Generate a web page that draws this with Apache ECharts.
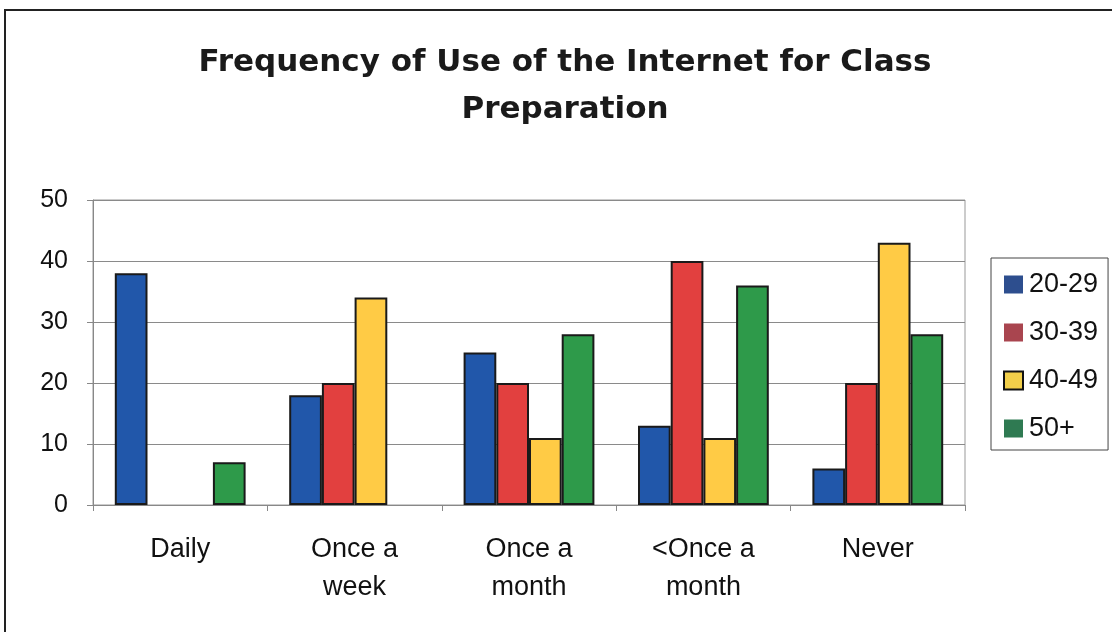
<!DOCTYPE html>
<html>
<head>
<meta charset="utf-8">
<script src="https://cdn.jsdelivr.net/npm/echarts@6/dist/echarts.min.js"></script>
<style>
html,body{margin:0;padding:0;background:#fff;}
#chart{width:1112px;height:632px;}
</style>
</head>
<body>
<div id="chart"></div>
<script>
const categories = ['Daily', 'Once a\nweek', 'Once a\nmonth', '<Once a\nmonth', 'Never'];
const seriesNames = ['20-29', '30-39', '40-49', '50+'];
const s2029 = [38, 18, 25, 13, 6];
const s3039 = [0, 20, 20, 40, 20];
const s4049 = [0, 34, 11, 11, 43];
const s50p = [7, 0, 28, 36, 28];
const yTicks = [0, 10, 20, 30, 40, 50];

const barColors = ['#2157AA', '#E2403F', '#FFCB45', '#2E9A4A'];
const legendColors = ['#2D4E8E', '#A9454F', '#F2CF4A', '#2F7A52'];
const values = [s2029, s3039, s4049, s50p];

const chart = echarts.init(document.getElementById('chart'));
const font = 'Liberation Sans, Arial, sans-serif';
chart.setOption({
  backgroundColor: '#ffffff',
  animation: false,
  title: {
    text: 'Frequency of Use of the Internet for Class\nPreparation',
    top: 34,
    left: 560,
    textAlign: 'center',
    textStyle: { fontFamily: 'DejaVu Sans', fontSize: 31, fontWeight: 'bold', color: '#1a1a1a', lineHeight: 47 }
  },
  legend: {
    orient: 'vertical',
    left: 991,
    top: 258,
    padding: [13, 10, 8, 12],
    itemGap: 21,
    itemWidth: 19,
    itemHeight: 18,
    borderColor: '#444',
    borderWidth: 1,
    textStyle: { fontFamily: font, fontSize: 27, color: '#111', padding: [0, 0, 0, 1] },
    data: seriesNames.map((n, i) => ({
      name: n,
      icon: 'rect',
      itemStyle: { color: legendColors[i], borderColor: i === 2 ? '#111' : legendColors[i], borderWidth: i === 2 ? 2 : 0 }
    }))
  },
  grid: { left: 93, right: 147, top: 200, bottom: 127, containLabel: false,
          show: true, borderColor: '#999', borderWidth: 1 },
  xAxis: {
    type: 'category',
    data: categories,
    axisLine: { lineStyle: { color: '#888', width: 1 } },
    axisTick: { show: true, length: 6, lineStyle: { color: '#888' } },
    axisLabel: { fontFamily: font, fontSize: 27, color: '#111', margin: 26, lineHeight: 38, interval: 0 }
  },
  yAxis: {
    type: 'value',
    min: 0, max: 50, interval: 10,
    axisLine: { show: true, lineStyle: { color: '#888' } },
    axisTick: { show: true, length: 6, lineStyle: { color: '#888' } },
    axisLabel: { fontFamily: font, fontSize: 25, color: '#111', margin: 25,
      formatter: v => yTicks.includes(v) ? String(v) : '' },
    splitLine: { lineStyle: { color: '#8a8a8a', width: 1 } }
  },
  series: seriesNames.map((n, i) => ({
    name: n,
    type: 'bar',
    data: values[i].map(v => v === 0 ? { value: 0, itemStyle: { borderWidth: 0 } } : v),
    barGap: '0%',
    barCategoryGap: '25%',
    itemStyle: { color: barColors[i], borderColor: '#1a1a1a', borderWidth: 2 }
  })),
  graphic: [{
    type: 'rect',
    shape: { x: 5, y: 10, width: 1112, height: 640 },
    style: { fill: 'none', stroke: '#222', lineWidth: 2 },
    silent: true
  }]
});
</script>
</body>
</html>
